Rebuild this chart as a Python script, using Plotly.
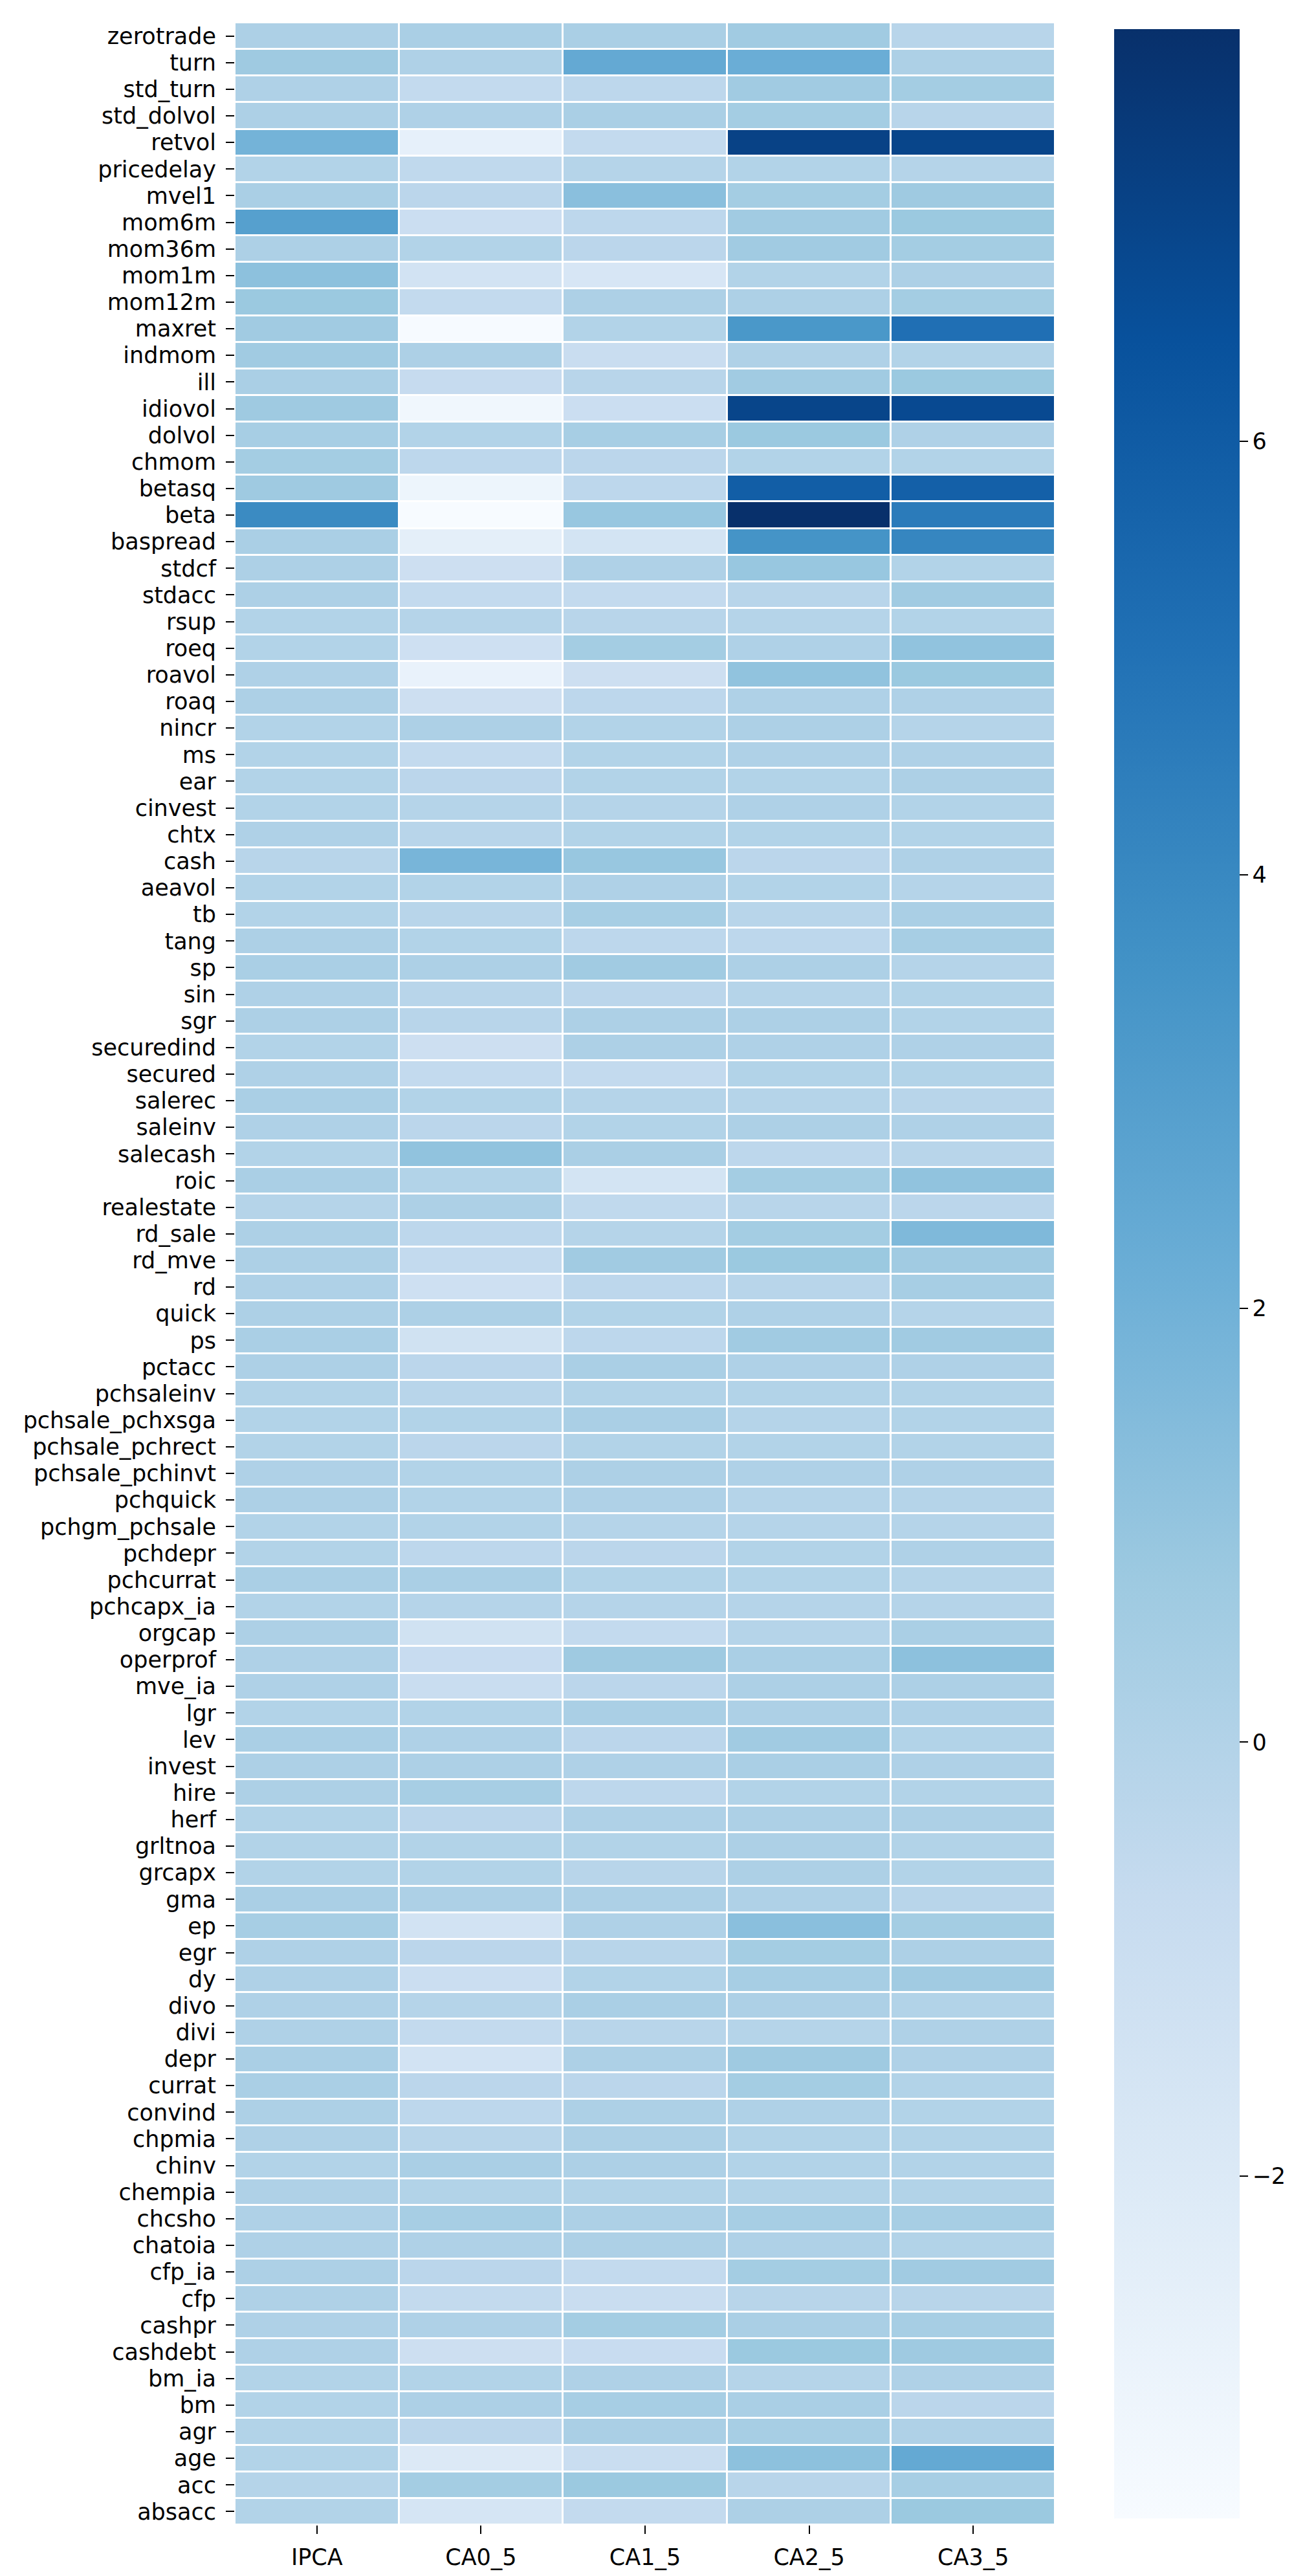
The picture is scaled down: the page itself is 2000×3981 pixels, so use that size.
import plotly.graph_objects as go

features = ["zerotrade", "turn", "std_turn", "std_dolvol", "retvol", "pricedelay", "mvel1", "mom6m",
            "mom36m", "mom1m", "mom12m", "maxret", "indmom", "ill", "idiovol", "dolvol", "chmom",
            "betasq", "beta", "baspread", "stdcf", "stdacc", "rsup", "roeq", "roavol", "roaq", "nincr",
            "ms", "ear", "cinvest", "chtx", "cash", "aeavol", "tb", "tang", "sp", "sin", "sgr",
            "securedind", "secured", "salerec", "saleinv", "salecash", "roic", "realestate", "rd_sale",
            "rd_mve", "rd", "quick", "ps", "pctacc", "pchsaleinv", "pchsale_pchxsga", "pchsale_pchrect",
            "pchsale_pchinvt", "pchquick", "pchgm_pchsale", "pchdepr", "pchcurrat", "pchcapx_ia",
            "orgcap", "operprof", "mve_ia", "lgr", "lev", "invest", "hire", "herf", "grltnoa", "grcapx",
            "gma", "ep", "egr", "dy", "divo", "divi", "depr", "currat", "convind", "chpmia", "chinv",
            "chempia", "chcsho", "chatoia", "cfp_ia", "cfp", "cashpr", "cashdebt", "bm_ia", "bm", "agr",
            "age", "acc", "absacc"]

models = ["IPCA", "CA0_5", "CA1_5", "CA2_5", "CA3_5"]

IPCA = [0.2, 0.7, 0.1, 0.2, 1.9, 0.0, 0.3, 2.9, 0.2, 1.2, 0.8, 0.6, 0.6, 0.3, 0.7, 0.4, 0.5,
        0.7, 3.9, 0.3, 0.2, 0.2, 0.0, 0.0, 0.1, 0.2, 0.0, 0.0, 0.0, 0.0, 0.1, -0.2, 0.0, 0.0,
        0.2, 0.3, 0.1, 0.2, 0.0, 0.1, 0.3, 0.1, 0.0, 0.3, -0.1, 0.2, 0.2, 0.1, 0.2, 0.3, 0.2,
        0.0, 0.0, 0.0, 0.1, 0.2, 0.0, 0.0, 0.3, 0.0, 0.2, 0.1, 0.1, 0.0, 0.3, 0.2, 0.2, 0.0,
        0.0, 0.0, 0.3, 0.4, 0.1, 0.1, 0.1, 0.1, 0.3, 0.3, 0.2, 0.1, 0.0, 0.1, 0.1, 0.1, 0.2,
        0.1, 0.1, 0.1, 0.0, 0.0, 0.0, 0.0, -0.1, 0.0]

CA0_5 = [0.3, 0.1, -0.6, 0.1, -2.6, -0.5, -0.3, -1.0, 0.0, -1.4, -0.6, -3.5, 0.2, -0.7, -3.2, 0.0,
         -0.4, -3.0, -3.58, -2.5, -1.1, -0.6, -0.1, -1.2, -2.8, -1.1, 0.2, -0.6, -0.3, -0.1, -0.2,
         1.8, 0.0, -0.2, 0.0, 0.2, -0.2, -0.2, -1.1, -0.6, 0.0, -0.3, 1.1, 0.0, 0.2, -0.4, -0.6,
         -1.2, 0.2, -1.3, -0.3, -0.2, 0.0, -0.3, 0.0, 0.0, 0.0, -0.4, 0.3, -0.1, -1.3, -0.8, -0.9,
         0.0, 0.1, 0.2, 0.4, -0.3, 0.0, 0.0, 0.2, -1.4, -0.3, -1.0, -0.1, -0.6, -1.4, -0.3, -0.4,
         -0.2, 0.3, 0.0, 0.4, 0.1, -0.3, -0.6, 0.1, -1.1, 0.0, 0.2, -0.3, -2.0, 0.5, -1.6]

CA1_5 = [0.3, 2.4, -0.4, 0.3, -0.6, -0.1, 1.3, -0.4, -0.3, -1.7, 0.2, 0.0, -0.9, -0.2, -1.0, 0.4,
         -0.3, -0.4, 0.9, -1.5, 0.1, -0.6, -0.2, 0.5, -1.1, -0.4, 0.0, 0.0, 0.0, -0.1, 0.0, 0.9,
         0.1, 0.4, -0.4, 0.6, -0.3, 0.2, 0.2, -0.6, -0.1, 0.0, 0.3, -1.5, -0.5, -0.1, 0.6, -0.4,
         0.0, -0.4, 0.3, 0.0, 0.3, 0.0, 0.2, 0.1, -0.1, -0.3, 0.0, -0.1, -0.6, 0.7, -0.3, 0.3,
         -0.3, 0.1, -0.4, 0.1, 0.0, -0.2, 0.2, 0.1, -0.2, 0.0, 0.3, -0.2, 0.2, -0.3, 0.2, 0.2,
         0.2, 0.0, 0.2, 0.2, -0.6, -0.9, 0.5, -0.8, 0.1, 0.4, 0.3, -0.9, 0.8, -0.6]

CA2_5 = [0.6, 2.2, 0.6, 0.5, 7.1, 0.0, 0.5, 0.6, 0.6, 0.0, 0.2, 3.3, 0.1, 0.6, 7.0, 0.8, 0.0,
         5.9, 7.9, 3.5, 0.9, -0.2, -0.1, 0.1, 1.1, 0.1, 0.2, 0.1, 0.0, 0.1, 0.0, -0.3, 0.0, -0.2,
         -0.4, 0.2, -0.1, 0.2, 0.1, 0.0, -0.1, 0.2, -0.4, 0.5, -0.2, 0.5, 0.8, -0.2, 0.1, 0.6,
         0.1, 0.0, -0.1, 0.0, 0.1, -0.1, -0.1, 0.0, 0.0, -0.1, -0.1, 0.3, 0.2, 0.2, 0.6, 0.3,
         0.0, 0.2, 0.2, 0.2, 0.1, 1.3, 0.5, 0.4, 0.2, -0.1, 0.7, 0.5, 0.1, 0.0, 0.0, 0.0, 0.4,
         0.1, 0.5, -0.2, 0.3, 0.8, -0.1, 0.3, 0.4, 1.2, -0.2, 0.2]

CA3_5 = [-0.2, 0.2, 0.5, -0.2, 7.0, -0.1, 0.7, 0.8, 0.5, 0.2, 0.5, 5.1, 0.0, 0.8, 6.8, 0.1, 0.0,
         5.8, 4.6, 4.1, 0.0, 0.6, 0.0, 1.1, 0.8, 0.1, -0.1, 0.1, 0.2, 0.0, 0.0, 0.1, -0.1, 0.3,
         0.4, -0.1, 0.0, 0.0, 0.1, 0.0, -0.2, 0.1, -0.2, 1.1, -0.3, 1.6, 0.6, 0.4, -0.1, 0.6,
         0.1, 0.0, 0.0, 0.0, 0.1, -0.1, -0.1, 0.1, -0.1, -0.1, 0.3, 1.2, 0.2, 0.1, 0.0, 0.1,
         0.0, 0.2, 0.0, 0.0, -0.2, 0.5, 0.2, 0.6, 0.0, 0.1, 0.1, 0.0, 0.0, 0.0, 0.0, 0.0, 0.4,
         0.0, 0.6, -0.2, 0.4, 0.7, 0.1, -0.3, 0.1, 2.4, 0.4, 0.8]

columns = [IPCA, CA0_5, CA1_5, CA2_5, CA3_5]
z = [[col[i] for col in columns] for i in range(len(features))]

blues = [
    [0.000, "#f7fbff"], [0.125, "#deebf7"], [0.250, "#c6dbef"], [0.375, "#9ecae1"],
    [0.500, "#6baed6"], [0.625, "#4292c6"], [0.750, "#2171b5"], [0.875, "#08519c"],
    [1.000, "#08306b"],
]

font_family = "DejaVu Sans"
fs = 35

fig = go.Figure(go.Heatmap(
    z=z, x=models, y=features,
    colorscale=blues,
    xgap=3, ygap=3,
    colorbar=dict(
        x=1.063, xanchor="left", xref="paper",
        y=0.5, yanchor="middle", len=1.0, lenmode="fraction",
        thickness=194, thicknessmode="pixels",
        outlinewidth=0,
        ticks="outside", ticklen=13, tickwidth=2, tickcolor="black",
        tickvals=[-2, 0, 2, 4, 6],
        ticktext=["\u22122", "0", "2", "4", "6"],
        tickfont=dict(family=font_family, size=fs, color="black"),
    ),
))

fig.update_layout(
    width=2000, height=3981,
    margin=dict(l=355, r=376, t=27, b=87, pad=0),
    paper_bgcolor="white", plot_bgcolor="white",
    font=dict(family=font_family, size=fs, color="black"),
)
fig.update_yaxes(autorange="reversed", tickmode="linear", tick0=0, dtick=1,
                 ticks="outside", ticklen=13, tickwidth=2,
                 tickcolor="black", showgrid=False, zeroline=False, showline=False,
                 ticklabelstandoff=8,
                 tickfont=dict(family=font_family, size=fs, color="black"))
fig.update_xaxes(tickmode="linear", tick0=0, dtick=1,
                 ticks="outside", ticklen=13, tickwidth=2, tickcolor="black",
                 showgrid=False, zeroline=False, showline=False,
                 ticklabelstandoff=6,
                 tickfont=dict(family=font_family, size=fs, color="black"))

fig.write_html("out.html")
